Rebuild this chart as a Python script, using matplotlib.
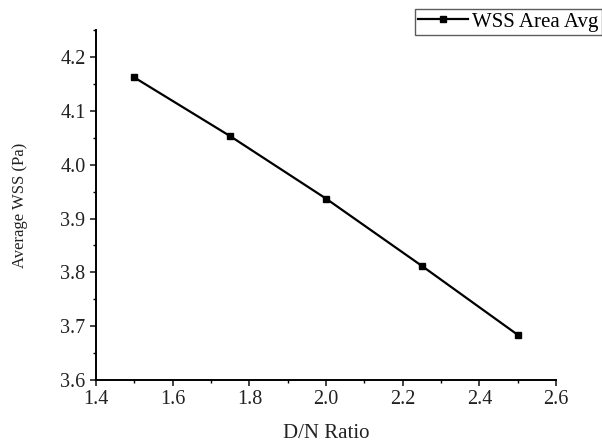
import matplotlib.pyplot as plt
from matplotlib.ticker import MultipleLocator

plt.rcParams['font.family'] = ['Liberation Serif', 'DejaVu Serif']

dn_ratio = [1.5, 1.75, 2.0, 2.25, 2.5]
wss_avg = [4.162, 4.053, 3.937, 3.812, 3.684]

fig = plt.figure(figsize=(6.02, 4.43), dpi=100)
ax = fig.add_axes([0.1595, 0.1422, 0.7641, 0.7898])

ax.plot(dn_ratio, wss_avg, color='black', linewidth=1.6,
        marker='s', markersize=5, label='WSS Area Avg')

ax.set_xlim(1.4, 2.6)
ax.set_ylim(3.6, 4.25)
ax.xaxis.set_major_locator(MultipleLocator(0.2))
ax.xaxis.set_minor_locator(MultipleLocator(0.1))
ax.yaxis.set_minor_locator(MultipleLocator(0.05))
ax.set_yticks([3.6, 3.7, 3.8, 3.9, 4.0, 4.1, 4.2])

ax.spines['top'].set_visible(False)
ax.spines['right'].set_visible(False)
for s in ['left', 'bottom']:
    ax.spines[s].set_linewidth(1.4)

ax.tick_params(which='major', direction='out', length=4, width=1.2,
               labelsize=14.5, colors='#222222')
ax.tick_params(which='minor', direction='out', length=2.5, width=1.0)

ax.set_xlabel('D/N Ratio', fontsize=15, color='#222222')
ax.set_ylabel('Average WSS (Pa)', fontsize=12, color='#222222')
ax.xaxis.set_label_coords(0.5, -0.125)
ax.yaxis.set_label_coords(-0.148, 0.5)

fig.legend(loc='upper left', bbox_to_anchor=(415 / 602, 1 - 9 / 443),
           fontsize=15, frameon=True, fancybox=False, edgecolor='#333333',
           borderpad=0.15, borderaxespad=0, handlelength=2.4,
           handletextpad=0.2)

fig.savefig('out.png', dpi=100)
